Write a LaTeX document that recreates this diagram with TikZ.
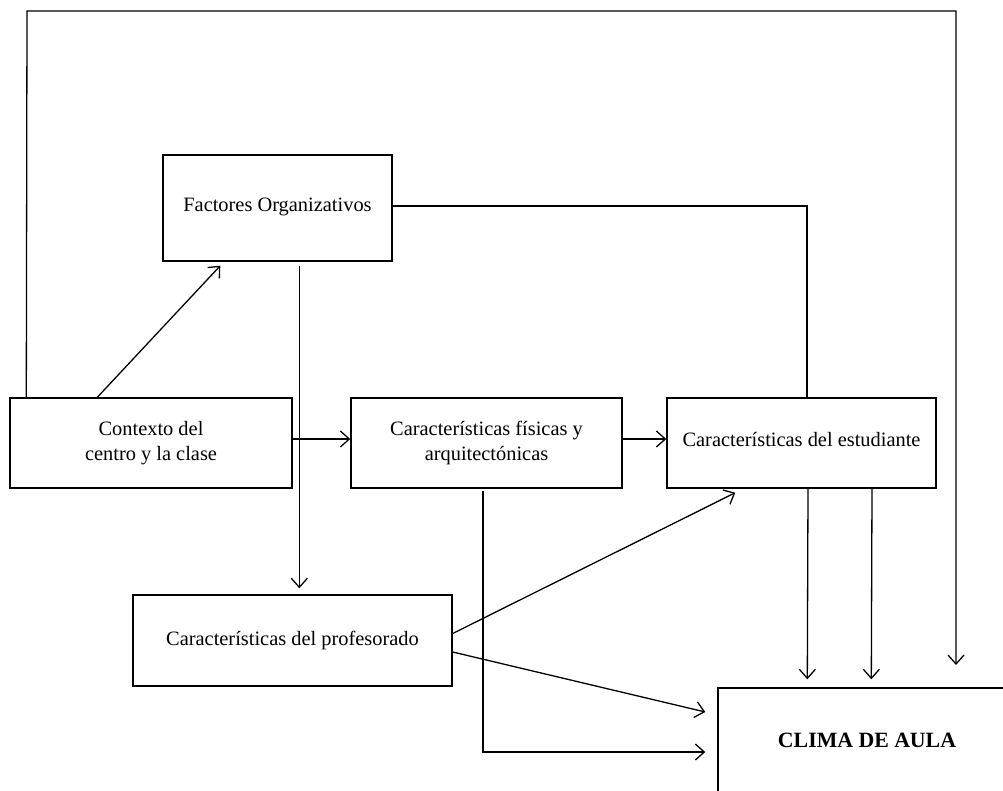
\documentclass[tikz,border=0pt]{standalone}
\usepackage{fontspec}
\setmainfont{Liberation Serif}
\usetikzlibrary{arrows.meta,calc}

\tikzset{
  box/.style={draw=black, line width=1.4pt, rectangle, inner sep=0pt,
    align=center, font=\fontsize{20.4}{25}\selectfont},
  conn/.style={draw=black, line width=1.3pt},
  arr/.style={conn, -{Straight Barb[length=9pt,width=16pt,line width=1.3pt]}}
}

\begin{document}
\begin{tikzpicture}[x=1pt,y=-1pt]
  \useasboundingbox (0,0) rectangle (1003,791);
  \clip (0,0) rectangle (1003,791);

  % boxes
  \node[box, minimum width=229, minimum height=106] (fo) at (277.5,208)
    {\raisebox{6pt}{Factores Organizativos}};
  \node[box, minimum width=282, minimum height=90] (ctx) at (151,443)
    {Contexto del\\centro y la clase};
  \node[box, minimum width=271, minimum height=90] (fis) at (486.5,443)
    {Características físicas y\\arquitectónicas};
  \node[box, minimum width=269, minimum height=90] (est) at (801.5,443)
    {\raisebox{8pt}{Características del estudiante}};
  \node[box, minimum width=319, minimum height=91] (prof) at (292.5,640.5)
    {Características del profesorado};
  \node[box, minimum width=298, minimum height=114] (clima) at (867,745)
    {\raisebox{10pt}{\fontsize{21.8}{25}\selectfont\bfseries CLIMA DE AULA}};

  % free end of the long loop arrow
  \coordinate (loopend) at (956,665);

  % long loop from the context box over the top to the classroom climate
  \draw[arr] ($(ctx.north west)+(17,0)$) -- (27,11) -- (956,11) -- (loopend);

  % context -> organisational factors
  \draw[arr] ($(ctx.north west)+(88,0)$) -- ($(fo.south west)+(58,4)$);

  % organisational factors -> teachers
  \draw[arr] ($(fo.south west)+(137,4)$) -- ($(prof.north west)+(167,-6)$);

  % horizontal chain
  \draw[arr] ($(ctx.east)+(0,-4)$) -- ($(fis.west)+(0,-4)$);
  \draw[arr] ($(fis.east)+(0,-4)$) -- ($(est.west)+(0,-4)$);

  % organisational factors -> students (joins the box top)
  \draw[conn] ($(fo.east)+(0,-2)$) -| ($(est.north)+(5.5,0)$);

  % teachers -> students and climate
  \draw[arr] ($(prof.east)+(0,-7)$) -- ($(est.south west)+(69,4)$);
  \draw[arr] ($(prof.east)+(0,11.5)$) -- ($(clima.west)+(-12,-33)$);

  % physical features -> climate
  \draw[arr] ($(fis.south)+(-3.5,2)$) |- ($(clima.west)+(-12,7)$);

  % students -> climate
  \draw[arr] ($(est.south)+(6.5,0)$) -- ($(clima.north west)+(90,-8)$);
  \draw[arr] ($(est.south)+(70.5,0)$) -- ($(clima.north west)+(154,-8)$);
\end{tikzpicture}
\end{document}
